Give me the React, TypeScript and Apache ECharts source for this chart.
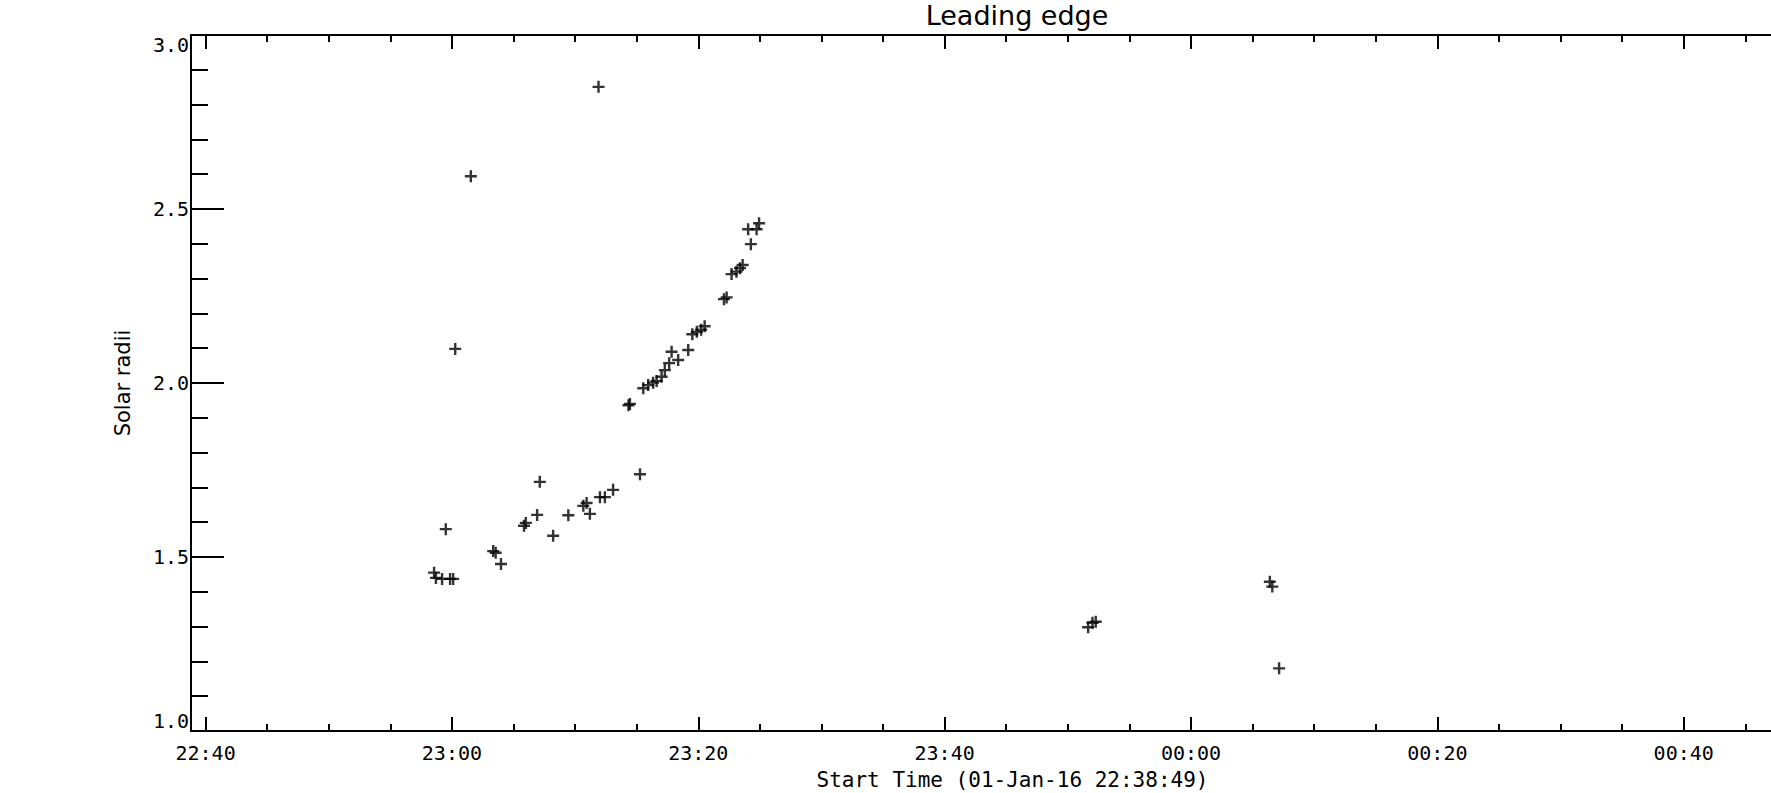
import React, { useEffect, useRef } from "react";
import * as echarts from "echarts";

// ---- data ----
const chartTitle = "Leading edge";
const xAxisTitle = "Start Time (01-Jan-16 22:38:49)";
const yAxisTitle = "Solar radii";

const axisStart = "22:38:49";
const axisEnd = "00:52:12";

const startTimes = [
  "22:58:33", "22:58:42", "22:59:12", "22:59:30", "22:59:51", "23:00:06",
  "23:00:16", "23:01:32", "23:03:21", "23:03:33", "23:03:59", "23:05:51",
  "23:06:00", "23:06:55", "23:07:08", "23:08:13", "23:09:27", "23:10:40",
  "23:10:56", "23:11:12", "23:11:54", "23:12:01", "23:12:25", "23:13:05",
  "23:14:20", "23:14:27", "23:15:16", "23:15:32", "23:15:56", "23:16:20",
  "23:16:37", "23:17:01", "23:17:17", "23:17:38", "23:17:50", "23:18:22",
  "23:19:11", "23:19:31", "23:19:53", "23:20:14", "23:20:31", "23:22:05",
  "23:22:18", "23:22:42", "23:23:06", "23:23:23", "23:23:36", "23:24:03",
  "23:24:16", "23:24:44", "23:24:56", "23:51:39", "23:52:00", "23:52:16",
  "00:06:24", "00:06:36", "00:07:09",
];

const solarRadii = [
  1.455, 1.44, 1.437, 1.58, 1.437, 1.437,
  2.098, 2.594, 1.517, 1.512, 1.48, 1.59,
  1.598, 1.621, 1.716, 1.561, 1.62, 1.647,
  1.655, 1.624, 2.851, 1.672, 1.672, 1.693,
  1.936, 1.94, 1.738, 1.985, 1.994, 2.001,
  2.006, 2.018, 2.037, 2.057, 2.09, 2.066,
  2.095, 2.14, 2.147, 2.153, 2.163, 2.241,
  2.246, 2.313, 2.32, 2.33, 2.339, 2.442,
  2.399, 2.442, 2.459, 1.298, 1.311, 1.314,
  1.429, 1.415, 1.18,
];

const majorTickTimes = ["22:40", "23:00", "23:20", "23:40", "00:00", "00:20", "00:40"];
const minorTickTimes = [
  "22:45", "22:50", "22:55", "23:05", "23:10", "23:15", "23:25", "23:30", "23:35",
  "23:45", "23:50", "23:55", "00:05", "00:10", "00:15", "00:25", "00:30", "00:35",
  "00:45", "00:50",
];

const yMin = 1.0;
const yMax = 3.0;
const yInterval = 0.5;

// minutes after 22:00 (times before noon belong to the next day)
function toMinutes(t: string): number {
  const p = t.split(":").map(Number);
  const h = p[0] < 12 ? p[0] + 24 : p[0];
  return h * 60 + p[1] + (p[2] || 0) / 60 - 22 * 60;
}
function fmt(m: number): string {
  const total = Math.round((m + 22 * 60) * 60) / 60;
  const h = Math.floor(total / 60) % 24;
  const mm = Math.round(total - Math.floor(total / 60) * 60);
  return String(h).padStart(2, "0") + ":" + String(mm).padStart(2, "0");
}

const CROSS = "path://M4.4,0H6.6V4.4H11V6.6H6.6V11H4.4V6.6H0V4.4H4.4Z";
const MONO = "DejaVu Sans Mono";
const SANS = "DejaVu Sans";

export default function App() {
  const ref = useRef<HTMLDivElement>(null);
  useEffect(() => {
    if (!ref.current) return;
    const chart = echarts.init(ref.current, null, { renderer: "svg" });
    const xmin = toMinutes(axisStart);
    const xmax = toMinutes(axisEnd);
    const majors = majorTickTimes.map(toMinutes);
    const minors = minorTickTimes.map(toMinutes);
    const points = startTimes.map((t, i) => [toMinutes(t), solarRadii[i]]);
    const line = { color: "#000", width: 2 };
    const baseX = {
      type: "value",
      min: xmin,
      max: xmax,
      splitLine: { show: false },
      axisLine: { show: false, onZero: false, lineStyle: line },
      axisLabel: { show: false },
    };
    chart.setOption({
      animation: false,
      backgroundColor: "#fff",
      title: {
        text: chartTitle,
        left: 1012,
        top: 10,
        textAlign: "center",
        textVerticalAlign: "middle",
        textStyle: { fontFamily: SANS, fontSize: 27, fontWeight: "normal", color: "#000" },
      },
      grid: { left: 191, top: 35, right: -63, bottom: 62, outerBoundsMode: "none", containLabel: false },
      xAxis: [
        {
          ...baseX,
          position: "bottom",
          axisLine: { show: true, onZero: false, lineStyle: line },
          axisTick: { show: true, inside: true, length: 14, customValues: majors, lineStyle: line },
          axisLabel: {
            show: true,
            customValues: majors,
            formatter: (v: number) => fmt(v),
            margin: 12,
            fontFamily: MONO,
            fontSize: 20,
            color: "#000",
          },
          name: xAxisTitle,
          nameLocation: "middle",
          nameGap: 38,
          nameTextStyle: { fontFamily: MONO, fontSize: 21, color: "#000" },
        },
        {
          ...baseX,
          position: "bottom",
          axisTick: { show: true, inside: true, length: 7, customValues: minors, lineStyle: line },
        },
        {
          ...baseX,
          position: "top",
          axisLine: { show: true, onZero: false, lineStyle: line },
          axisTick: { show: true, inside: true, length: 14, customValues: majors, lineStyle: line },
        },
        {
          ...baseX,
          position: "top",
          axisTick: { show: true, inside: true, length: 7, customValues: minors, lineStyle: line },
        },
      ],
      yAxis: [
        {
          type: "value",
          position: "left",
          min: yMin,
          max: yMax,
          interval: yInterval,
          splitLine: { show: false },
          axisLine: { show: true, onZero: false, lineStyle: line },
          axisTick: { show: true, inside: true, length: 33, lineStyle: line },
          minorTick: { show: true, splitNumber: 5, length: 17, lineStyle: line },
          axisLabel: {
            margin: 2,
            fontFamily: MONO,
            fontSize: 20,
            color: "#000",
            formatter: (v: number) => v.toFixed(1),
            verticalAlignMinLabel: "bottom",
            verticalAlignMaxLabel: "top",
          },
          name: yAxisTitle,
          nameLocation: "middle",
          nameGap: 58,
          nameRotate: 90,
          nameTextStyle: { fontFamily: SANS, fontSize: 21, color: "#000" },
        },
      ],
      series: [
        {
          type: "scatter",
          xAxisIndex: 0,
          yAxisIndex: 0,
          data: points,
          symbol: CROSS,
          symbolSize: 12,
          itemStyle: { color: "#000" },
          silent: true,
        },
      ],
    });
    return () => chart.dispose();
  }, []);
  return (
    <div
      ref={ref}
      style={{ position: "absolute", left: 0, top: 0, width: 1771, height: 793 }}
    />
  );
}
